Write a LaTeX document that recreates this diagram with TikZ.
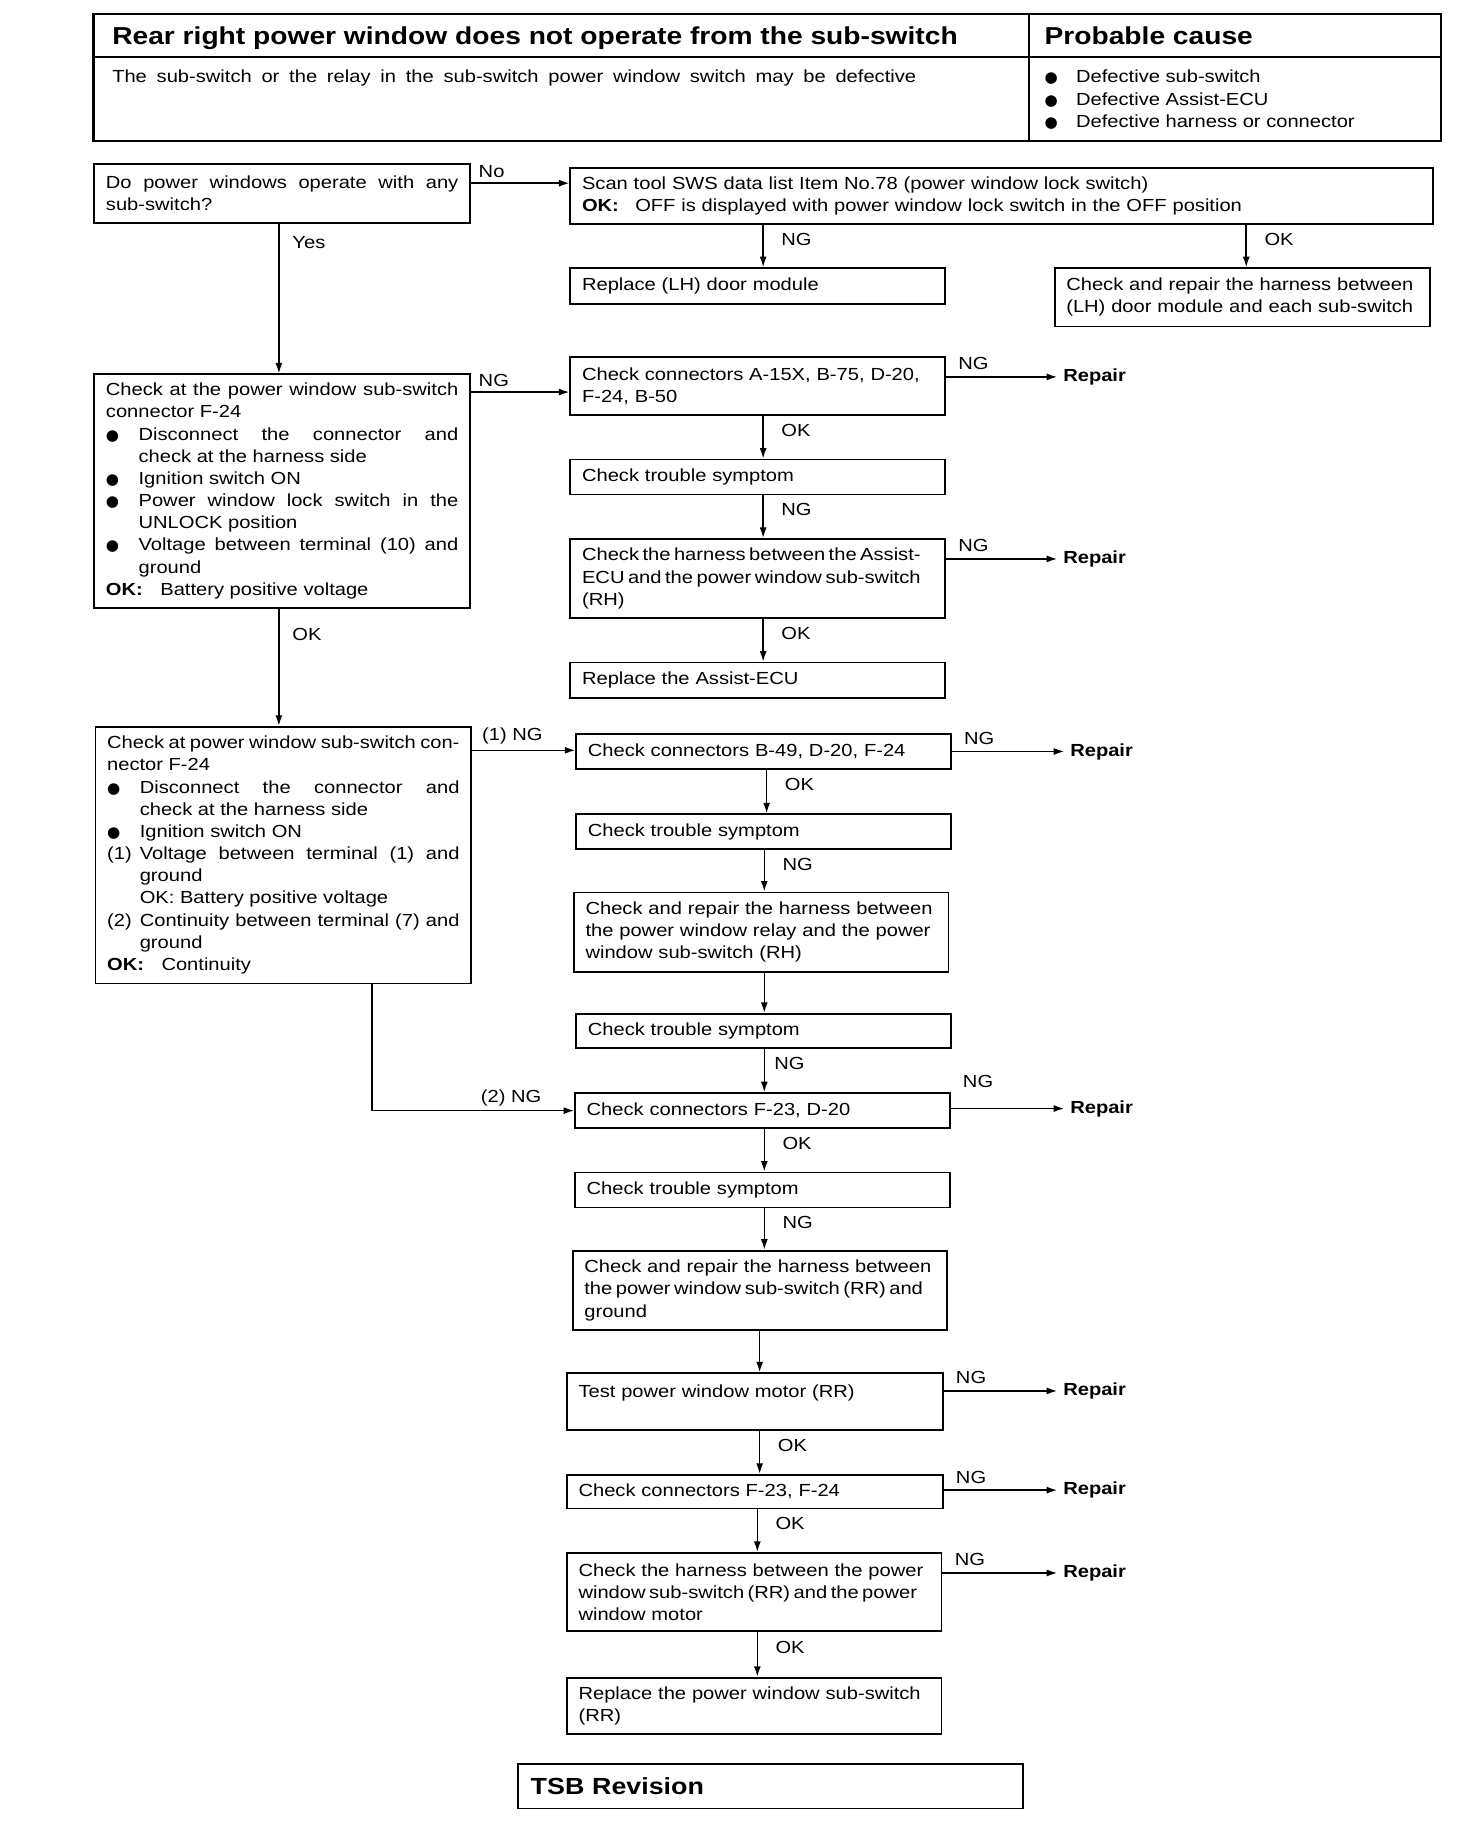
\documentclass[tikz,border=0pt]{standalone}
\usepackage{fontspec}
\setmainfont{Liberation Sans}[FakeStretch=1.15]
\newfontfamily\symfont{DejaVu Sans}
\usetikzlibrary{arrows.meta,positioning}
\hyphenpenalty=10000 \exhyphenpenalty=10000 \tolerance=9999 \hbadness=10000
\newcommand\tight[1]{{\spaceskip=.2em plus .3em\relax#1}}
\newcommand\bull{\makebox[27pt][l]{{\symfont\fontsize{13}{13}\selectfont ●}}}
\newcommand\bul{\par\hangindent=28pt\hangafter=1\noindent\makebox[28pt][l]{{\symfont\fontsize{13}{13}\selectfont ●}}}
\newcommand\itm[1]{\par\hangindent=28pt\hangafter=1\noindent\makebox[28pt][l]{#1}}

\begin{document}
\begin{tikzpicture}[x=1pt, y=-1pt, font=\fontsize{15}{19}\selectfont,
    box/.style={draw, line width=1.6pt, anchor=north west, inner xsep=10pt,
      inner ysep=0pt, align=left},
    jbox/.style={box, align=justify},
    arr/.style={line width=1.3pt, -{Latex[length=9pt,width=6pt]}},
    vl/.style={anchor=west, inner sep=0pt, xshift=15pt, pos=.34},
    nl/.style={anchor=base west, inner sep=0pt, pos=0, xshift=6pt, yshift=5pt},
    rnl/.style={nl, xshift=4pt, yshift=1pt},
    rep/.style={anchor=west, inner xsep=5pt, font=\fontsize{15}{19}\selectfont\bfseries}]
  \fill[white] (0,0) rectangle (1248,1570);
  \useasboundingbox (0,0) rectangle (1248,1570);

  % header table
  \draw[line width=2pt] (80,12) rectangle (1235,121);
  \draw[line width=2pt] (882,12) -- (882,121) (80,49) -- (1235,49);
  \node[anchor=base west, inner sep=0pt, font=\fontsize{21}{25}\selectfont\bfseries]
    (title) at (96,38) {Rear right power window does not operate from the sub-switch};
  \node[anchor=base west, inner sep=0pt, font=\fontsize{21}{25}\selectfont\bfseries]
    (cause) at (895,38) {Probable cause};
  \node[anchor=base west, inner sep=0pt] (symptom) at (96,71)
    {\makebox[689pt][s]{The sub-switch or the relay in the sub-switch power window switch may be defective}};
  \foreach \t [count=\i] in {Defective sub-switch, Defective Assist-ECU, Defective harness or connector}
    \node[anchor=base west, inner sep=0pt] (cause\i) at (895,52+19*\i) {\bull\t};

  % columns of the vertical arrows
  \coordinate (k1) at (654,0);
  \coordinate (k2) at (1068,0);
  \coordinate (k3) at (239,0);
  \coordinate (k4) at (657,0);
  \coordinate (k5) at (655,0);
  \coordinate (k6) at (651,0);
  \coordinate (k7) at (649,0);

  % left column
  \node[jbox, text width=302pt, minimum height=50pt] (q) at (80,140)
    {Do power windows operate with any\linebreak sub-switch?};
  \node[jbox, text width=302pt, minimum height=200pt] (b) at (80,320)
    {Check at the power window sub-switch\linebreak connector F-24
    \bul Disconnect the connector and\linebreak check at the harness side
    \bul Ignition switch ON
    \bul Power window lock switch in the\linebreak UNLOCK position
    \bul Voltage between terminal (10) and\linebreak ground
    \par\noindent\textbf{OK:}\hspace{15pt}Battery positive voltage};
  \node[jbox, text width=302pt, minimum height=220pt] (c) at (81,622)
    {\tight{Check at power window sub-switch con-}\linebreak nector F-24
    \bul Disconnect the connector and\linebreak check at the harness side
    \bul Ignition switch ON
    \itm{(1)}Voltage between terminal (1) and\linebreak ground\newline OK: Battery positive voltage
    \itm{(2)}Continuity between terminal (7) and\linebreak ground
    \par\noindent\textbf{OK:}\hspace{15pt}Continuity};

  % upper right
  \node[box, text width=719pt, minimum height=48pt] (scan) at (488,143)
    {Scan tool SWS data list Item No.78 (power window lock switch)\\
     \textbf{OK:}\hspace{14pt}OFF is displayed with power window lock switch in the OFF position};
  \node[box, text width=301pt, minimum height=31pt] (rlh) at (488,229) {Replace (LH) door module};
  \node[box, text width=302pt, minimum height=50pt] (crlh) at (903,229)
    {Check and repair the harness between\\(LH) door module and each sub-switch};

  % first branch
  \node[box, text width=301pt, minimum height=50pt] (ca) at (488,305)
    {Check connectors A-15X, B-75, D-20,\\F-24, B-50};
  \node[box, text width=301pt, minimum height=30pt] (ct1) at (488,393) {Check trouble symptom};
  \node[box, text width=301pt, minimum height=68pt] (h1) at (488,461)
    {\tight{Check the harness between the Assist-}\\\tight{ECU and the power window sub-switch}\\(RH)};
  \node[box, text width=301pt, minimum height=30pt] (ra) at (488,567) {Replace the Assist-ECU};

  % second branch
  \node[box, text width=301pt, minimum height=30pt] (cb) at (493,628) {Check connectors B-49, D-20, F-24};
  \node[box, text width=301pt, minimum height=30pt] (ct2) at (493,697) {Check trouble symptom};
  \node[box, text width=301pt, minimum height=68pt] (h2) at (491,764)
    {Check and repair the harness between\\the power window relay and the power\\window sub-switch (RH)};
  \node[box, text width=301pt, minimum height=29pt] (ct3) at (493,868) {Check trouble symptom};
  \node[box, text width=301pt, minimum height=30pt] (cf) at (492,936) {Check connectors F-23, D-20};
  \node[box, text width=301pt, minimum height=30pt] (ct4) at (492,1004) {Check trouble symptom};
  \node[box, text width=301pt, minimum height=68pt] (h3) at (490,1071)
    {Check and repair the harness between\\\tight{the power window sub-switch (RR) and}\\ground};
  \node[box, text width=302pt, minimum height=49pt] (tm) at (485,1176)
    {Test power window motor (RR)\\\mbox{}};
  \node[box, text width=302pt, minimum height=29pt] (cf2) at (485,1263) {Check connectors F-23, F-24};
  \node[box, text width=301pt, minimum height=67pt] (h4) at (485,1330)
    {Check the harness between the power\\\tight{window sub-switch (RR) and the power}\\window motor};
  \node[box, text width=301pt, minimum height=48pt] (rs) at (485,1437)
    {Replace the power window sub-switch\\(RR)};
  \node[box, text width=411pt, minimum height=38pt, inner xsep=11pt,
    font=\fontsize{20}{24}\selectfont\bfseries] (tsb) at (443,1511) {TSB Revision};

  % repair ends
  \node[rep] (rp1) at (906,323) {Repair};
  \node[rep] (rp2) at (906,479) {Repair};
  \node[rep] (rp3) at (912,644) {Repair};
  \node[rep] (rp4) at (912,950) {Repair};
  \node[rep] (rp5) at (906,1192) {Repair};
  \node[rep] (rp6) at (906,1277) {Repair};
  \node[rep] (rp7) at (906,1348) {Repair};

  % horizontal connectors
  \path ([yshift=-17pt]q.north east) coordinate (q-no);
  \path ([yshift=-16pt]b.north east) coordinate (b-ng);
  \path ([yshift=-21pt]c.north east) coordinate (c-ng1);
  \path ([xshift=238pt]c.south west) coordinate (c-ng2);
  \draw[arr] (q-no) -- node[nl]{No} (q-no -| scan.west);
  \draw[arr] (b-ng) -- node[nl]{NG} (b-ng -| ca.west);
  \draw[arr] (c-ng1) -- node[nl, xshift=2pt, yshift=3pt]{(1) NG} (c-ng1 -| cb.west);
  \draw[arr] (c-ng2) |- node[nl, pos=.75, yshift=2pt]{(2) NG} (cf.west);
  \draw[arr] (ca.east |- rp1) -- node[rnl]{NG} (rp1);
  \draw[arr] (h1.east |- rp2) -- node[rnl]{NG} (rp2);
  \draw[arr] (cb.east |- rp3) -- node[rnl]{NG} (rp3);
  \draw[arr] (cf.east |- rp4) -- node[rnl, yshift=12pt]{NG} (rp4);
  \draw[arr] (tm.east |- rp5) -- node[rnl]{NG} (rp5);
  \draw[arr] (cf2.east |- rp6) -- node[rnl]{NG} (rp6);
  \draw[arr] (h4.east |- rp7) -- node[rnl]{NG} (rp7);

  % vertical connectors
  \draw[arr] (scan.south -| k1) -- node[vl]{NG} (rlh.north -| k1);
  \draw[arr] (scan.south -| k2) -- node[vl]{OK} (crlh.north -| k2);
  \draw[arr] (q.south -| k3) -- node[vl, pos=.13, xshift=-4pt]{Yes} (b.north -| k3);
  \draw[arr] (b.south -| k3) -- node[vl, pos=.22, xshift=-4pt]{OK} (c.north -| k3);
  \draw[arr] (ca.south -| k1) -- node[vl]{OK} (ct1.north -| k1);
  \draw[arr] (ct1.south -| k1) -- node[vl]{NG} (h1.north -| k1);
  \draw[arr] (h1.south -| k1) -- node[vl]{OK} (ra.north -| k1);
  \draw[arr] (cb.south -| k4) -- node[vl]{OK} (ct2.north -| k4);
  \draw[arr] (ct2.south -| k5) -- node[vl]{NG} (h2.north -| k5);
  \draw[arr] (h2.south -| k5) -- (ct3.north -| k5);
  \draw[arr] (ct3.south -| k5) -- node[vl, xshift=-7pt]{NG} (cf.north -| k5);
  \draw[arr] (cf.south -| k5) -- node[vl]{OK} (ct4.north -| k5);
  \draw[arr] (ct4.south -| k5) -- node[vl]{NG} (h3.north -| k5);
  \draw[arr] (h3.south -| k6) -- (tm.north -| k6);
  \draw[arr] (tm.south -| k6) -- node[vl]{OK} (cf2.north -| k6);
  \draw[arr] (cf2.south -| k7) -- node[vl]{OK} (h4.north -| k7);
  \draw[arr] (h4.south -| k7) -- node[vl]{OK} (rs.north -| k7);
\end{tikzpicture}
\end{document}
